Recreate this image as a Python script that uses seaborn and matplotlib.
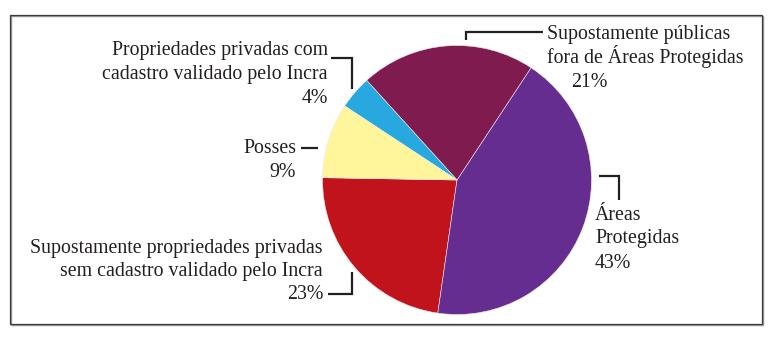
import matplotlib
matplotlib.use("Agg")
import matplotlib.pyplot as plt
import seaborn as sns
from matplotlib.patches import Rectangle

sns.set_theme(style="white")
plt.rcParams['font.family'] = ['Liberation Serif', 'DejaVu Serif']

# data
categories = [
    "Supostamente propriedades privadas sem cadastro validado pelo Incra",
    "Áreas Protegidas",
    "Supostamente públicas fora de Áreas Protegidas",
    "Propriedades privadas com cadastro validado pelo Incra",
    "Posses",
]
values = [23, 43, 21, 4, 9]
colors = ["#C1131B", "#652D8F", "#7F1B4E", "#27A9E0", "#FFF59B"]

W, H = 776, 337
fig = plt.figure(figsize=(W / 100, H / 100), dpi=100)
ax = fig.add_axes([0, 0, 1, 1])

def Y(y):
    return H - y

ax.pie(values, colors=sns.color_palette(colors), startangle=179, counterclock=True,
       center=(457, Y(180)), radius=134.5,
       wedgeprops=dict(edgecolor="#f3e6ea", linewidth=0.4))
ax.set_xlim(0, W)
ax.set_ylim(0, H)
ax.set_aspect("equal")
ax.axis("off")

# frame
ax.add_patch(Rectangle((11, Y(325)), 752, 309, fill=False, edgecolor="#9a9a9a", linewidth=1.0))
ax.add_patch(Rectangle((10, Y(324)), 752, 309, fill=False, edgecolor="#3a3a3a", linewidth=0.9))

fs = 14.3
tc = "#231F20"
def txt(x, y, s, ha="left"):
    ax.text(x, Y(y), s, ha=ha, va="baseline", fontsize=fs, color=tc)

def line(xs, ys):
    ax.plot(xs, [Y(v) for v in ys], color=tc, linewidth=1.6, solid_capstyle="butt",
            solid_joinstyle="miter")

# Propriedades privadas com cadastro
txt(328, 55, "Propriedades privadas com", "right")
txt(328, 79, "cadastro validado pelo Incra", "right")
txt(328, 103, "4%", "right")
line([331, 352, 352], [58, 58, 89])

# Posses
txt(296, 153, "Posses", "right")
txt(296, 177, "9%", "right")
line([301, 318], [148, 148])

# Supostamente propriedades privadas sem cadastro
txt(323, 253, "Supostamente propriedades privadas", "right")
txt(323, 276, "sem cadastro validado pelo Incra", "right")
txt(323, 299, "23%", "right")
line([328, 352, 352], [294, 294, 272])

# Supostamente públicas
txt(547, 39, "Supostamente públicas")
txt(547, 63, "fora de Áreas Protegidas")
txt(571, 87, "21%")
line([466, 466, 543], [40, 32, 32])

# Áreas Protegidas
txt(595, 220, "Áreas")
txt(595, 243, "Protegidas")
txt(595, 268, "43%")
line([599, 619, 619], [176, 176, 200])

fig.savefig("out.png", dpi=100)
